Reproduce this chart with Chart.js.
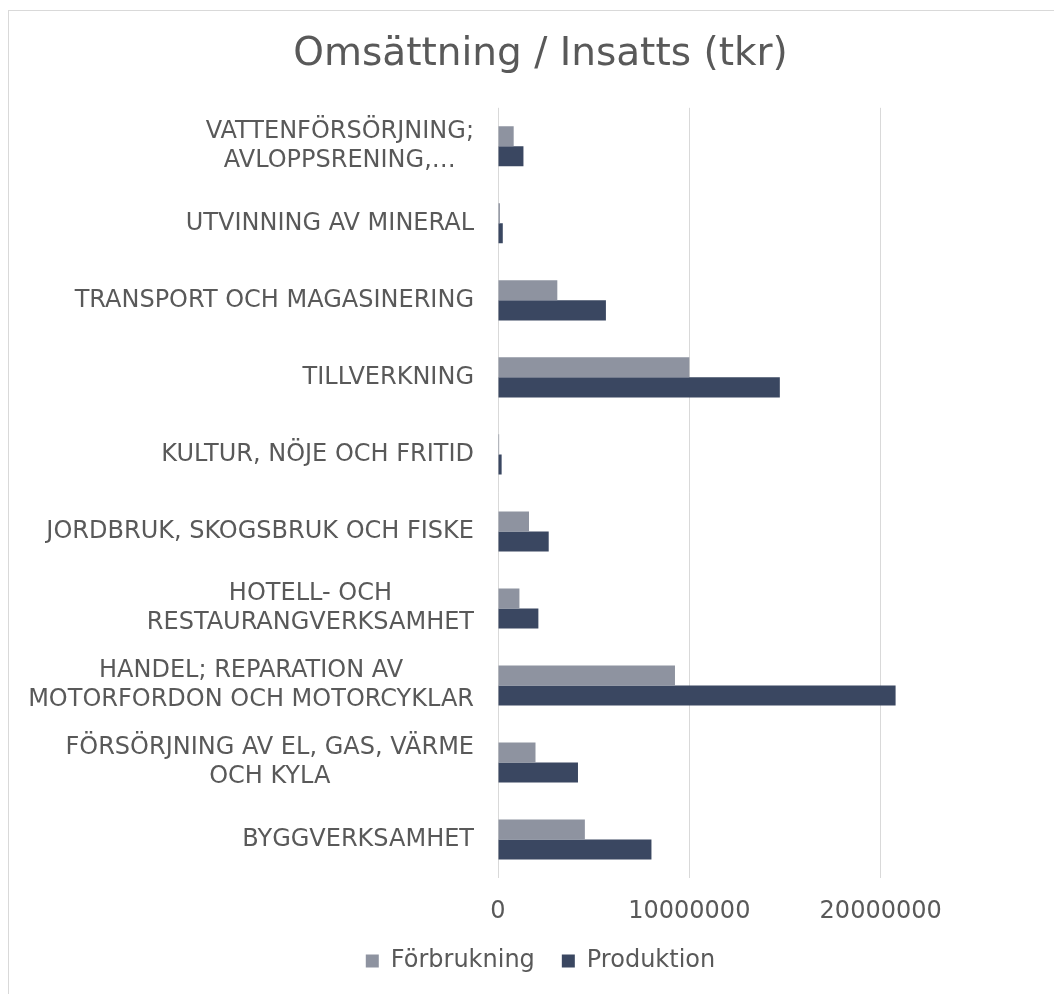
<!DOCTYPE html>
<html>
<head>
<meta charset="utf-8">
<script src="https://cdn.jsdelivr.net/npm/chart.js@4/dist/chart.umd.min.js"></script>
<style>
  html, body { margin: 0; padding: 0; background: #ffffff; overflow: hidden; }
  #box {
    position: absolute; left: 8px; top: 10px;
    width: 1065px; height: 1001px;
    box-sizing: border-box; border: 1px solid #d9d9d9;
  }
</style>
</head>
<body>
<div id="box"><canvas id="omsChart"></canvas></div>
<script>
const categories = [
  ["VATTENFÖRSÖRJNING;", "AVLOPPSRENING,…"],
  "UTVINNING AV MINERAL",
  "TRANSPORT OCH MAGASINERING",
  "TILLVERKNING",
  "KULTUR, NÖJE OCH FRITID",
  "JORDBRUK, SKOGSBRUK OCH FISKE",
  ["HOTELL- OCH", "RESTAURANGVERKSAMHET"],
  ["HANDEL; REPARATION AV", "MOTORFORDON OCH MOTORCYKLAR"],
  ["FÖRSÖRJNING AV EL, GAS, VÄRME", "OCH KYLA"],
  "BYGGVERKSAMHET"
];
const forbrukning = [820000, 100000, 3100000, 10000000, 60000, 1620000, 1120000, 9250000, 1960000, 4540000];
const produktion = [1330000, 250000, 5640000, 14730000, 190000, 2650000, 2110000, 20780000, 4180000, 8020000];
const xTicks = [0, 10000000, 20000000];

const textGray = "#595959";
const fontFam = "'DejaVu Sans', Verdana, sans-serif";

// category labels: widest line right-aligned, lines centred on each other (like Excel)
const catLabels = {
  id: "catLabels",
  afterDraw(chart) {
    const ctx = chart.ctx;
    const yScale = chart.scales.y;
    const right = 474;
    const lineH = 29.5;
    ctx.save();
    ctx.font = "24px " + fontFam;
    ctx.fillStyle = textGray;
    ctx.textAlign = "center";
    ctx.textBaseline = "middle";
    chart.data.labels.forEach((lab, i) => {
      const lines = Array.isArray(lab) ? lab : [lab];
      const maxW = Math.max(...lines.map(l => ctx.measureText(l).width));
      const cx = right - 9 - maxW / 2; // canvas starts 9px in
      const cy = yScale.getPixelForValue(i);
      lines.forEach((l, k) => {
        ctx.fillText(l, cx, cy + (k - (lines.length - 1) / 2) * lineH);
      });
    });
    ctx.restore();
  }
};

new Chart(document.getElementById("omsChart"), {
  type: "bar",
  data: {
    labels: categories,
    datasets: [{
      label: "Förbrukning",
      data: forbrukning,
      backgroundColor: "#8e93a0",
      categoryPercentage: 0.52,
      barPercentage: 1.0
    }, {
      label: "Produktion",
      data: produktion,
      backgroundColor: "#3a4761",
      categoryPercentage: 0.52,
      barPercentage: 1.0
    }]
  },
  options: {
    indexAxis: "y",
    animation: false,
    responsive: true,
    maintainAspectRatio: false,
    layout: { padding: { left: 0, right: 0, top: 0, bottom: 27 } },
    plugins: {
      title: {
        display: true,
        text: "Omsättning / Insatts (tkr)",
        color: textGray,
        font: { family: fontFam, size: 39, weight: "normal" },
        padding: { top: 20, bottom: 30 }
      },
      legend: {
        position: "bottom",
        labels: {
          color: textGray,
          font: { family: fontFam, size: 24 },
          boxWidth: 13,
          boxHeight: 13,
          padding: 27
        }
      },
      tooltip: { enabled: false }
    },
    scales: {
      x: {
        min: 0,
        max: 30000000,
        afterBuildTicks: axis => {
          axis.ticks = xTicks.map(v => ({ value: v }));
        },
        afterFit: scale => { scale.height = 44; },
        ticks: {
          color: textGray,
          font: { family: fontFam, size: 24 },
          padding: 19,
          maxRotation: 0,
          callback: v => String(v)
        },
        grid: { color: "#d9d9d9", lineWidth: 1, drawTicks: false },
        border: { display: false }
      },
      y: {
        afterFit: scale => { scale.width = 489; },
        ticks: { display: false },
        grid: { display: false },
        border: { display: false }
      }
    }
  },
  plugins: [catLabels]
});
</script>
</body>
</html>
